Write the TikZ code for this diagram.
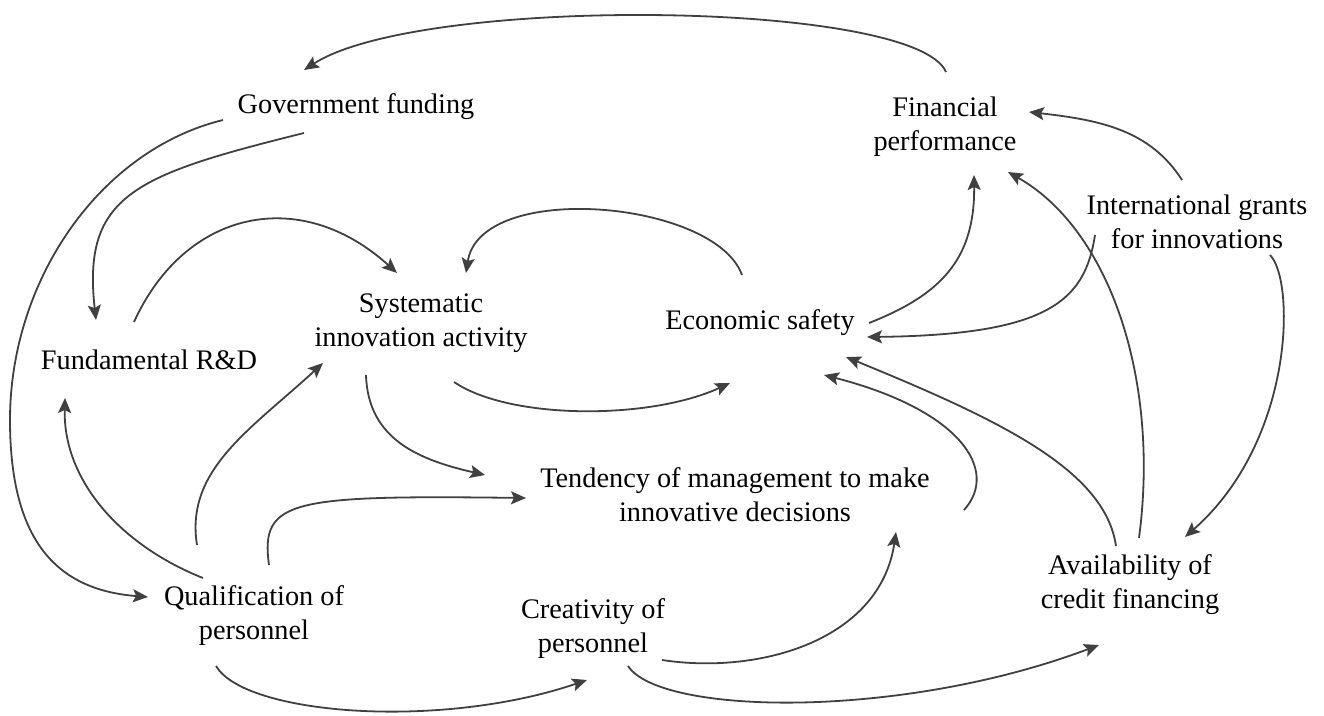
\documentclass[tikz,border=0pt]{standalone}
\usepackage{fontspec}
\setmainfont{Liberation Serif}
\usetikzlibrary{arrows.meta}
\definecolor{arrcol}{HTML}{404040}
\begin{document}
\begin{tikzpicture}[x=1pt,y=-1pt,
  lbl/.style={font={\fontsize{28.3}{34}\selectfont}, align=center, inner sep=0pt, text=black},
  arr/.style={draw=arrcol, line width=1.8pt, -{Stealth[length=15pt,width=13pt,inset=3pt]}}]
\useasboundingbox (0,0) rectangle (1324,715);
% nodes
\node[lbl] (gov) at (356,107) {Government funding};
\node[lbl] (fin) at (945,127) {Financial\\performance};
\node[lbl] (intl) at (1197,222) {International grants\\for innovations};
\node[lbl] (econ) at (760,323) {Economic safety};
\node[lbl] (sys) at (421,323) {Systematic\\innovation activity};
\node[lbl] (fund) at (149,360) {Fundamental R\&D};
\node[lbl] (tend) at (735,495) {Tendency of management to make\\innovative decisions};
\node[lbl] (qual) at (254,616) {Qualification of\\personnel};
\node[lbl] (creat) at (593,629) {Creativity of\\personnel};
\node[lbl] (credit) at (1130,585) {Availability of\\credit financing};
% connectors
\draw[arr] ([shift={(1,-55)}]fin.center) .. controls (915,0) and (420,-5) .. ([shift={(-52,-37)}]gov.center);
\draw[arr] ([shift={(-133,13)}]gov.center) .. controls (100,150) and (10,280) .. (10,420)
  .. controls (10,545) and (60,590) .. ([shift={(-106,-19)}]qual.center);
\draw[arr] ([shift={(-52,26)}]gov.center) .. controls (135,175) and (82,195) .. ([shift={(-53,-40)}]fund.center);
\draw[arr] ([shift={(-15,-38)}]fund.center) .. controls (185,210) and (300,185) .. ([shift={(-24,-50)}]sys.center);
\draw[arr] ([shift={(-18,-48)}]econ.center) .. controls (715,200) and (480,180) .. ([shift={(45,-50)}]sys.center);
\draw[arr] ([shift={(33,59)}]sys.center) .. controls (510,420) and (650,420) .. ([shift={(-30,60)}]econ.center);
\draw[arr] ([shift={(-55,52)}]sys.center) .. controls (368,440) and (420,460) .. ([shift={(-250,-20)}]tend.center);
\draw[arr] ([shift={(15,-51)}]qual.center) .. controls (260,500) and (290,495) .. ([shift={(-209,3)}]tend.center);
\draw[arr] ([shift={(-57,-71)}]qual.center) .. controls (185,470) and (250,430) .. ([shift={(-98,40)}]sys.center);
\draw[arr] ([shift={(-51,-38)}]qual.center) .. controls (120,545) and (63,480) .. ([shift={(-84,38)}]fund.center);
\draw[arr] ([shift={(-38,50)}]qual.center) .. controls (245,715) and (440,730) .. ([shift={(-6,51)}]creat.center);
\draw[arr] ([shift={(69,31)}]creat.center) .. controls (760,675) and (880,640) .. ([shift={(161,37)}]tend.center);
\draw[arr] ([shift={(35,37)}]creat.center) .. controls (660,715) and (900,720) .. ([shift={(-31,60)}]credit.center);
\draw[arr] ([shift={(229,15)}]tend.center) .. controls (1000,470) and (960,410) .. ([shift={(64,52)}]econ.center);
\draw[arr] ([shift={(-14,-39)}]credit.center) .. controls (1105,470) and (1000,420) .. ([shift={(86,34)}]econ.center);
\draw[arr] ([shift={(9,-47)}]credit.center) .. controls (1160,380) and (1110,230) .. ([shift={(63,45)}]fin.center);
\draw[arr] ([shift={(-15,-42)}]intl.center) .. controls (1150,130) and (1100,120) .. ([shift={(84,-15)}]fin.center);
\draw[arr] ([shift={(-102,13)}]intl.center) .. controls (1085,300) and (1050,335) .. ([shift={(107,14)}]econ.center);
\draw[arr] ([shift={(109,0)}]econ.center) .. controls (940,295) and (975,260) .. ([shift={(29,48)}]fin.center);
\draw[arr] ([shift={(73,33)}]intl.center) .. controls (1295,280) and (1295,440) .. ([shift={(55,-48)}]credit.center);
\end{tikzpicture}
\end{document}
